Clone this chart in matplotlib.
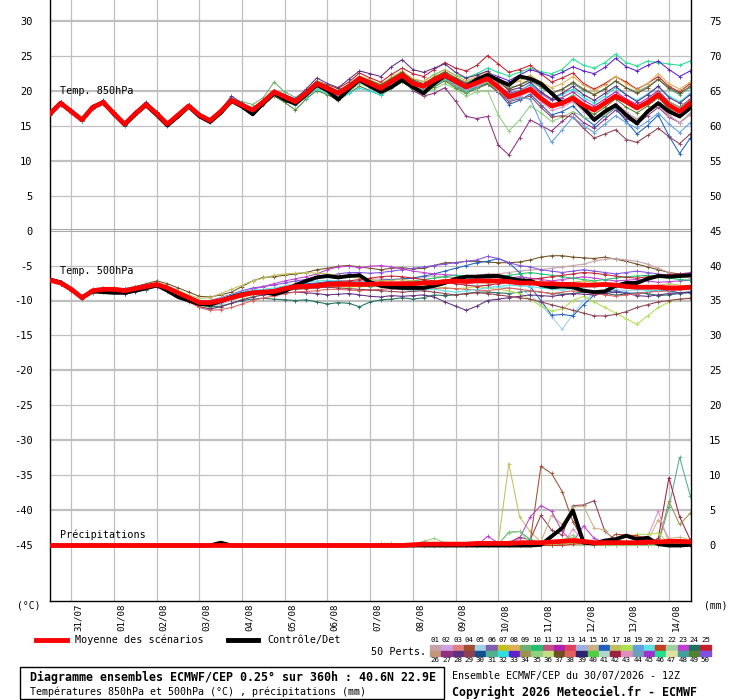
import numpy as np
import matplotlib
matplotlib.use("Agg")
import matplotlib.pyplot as plt
from matplotlib.lines import Line2D
from matplotlib.patches import Rectangle
from matplotlib.transforms import blended_transform_factory

plt.rcParams["font.family"] = ["DejaVu Sans Mono", "DejaVu Sans"]
plt.rcParams["axes.unicode_minus"] = False

W, H = 740, 700

# forecast steps (hours after 30/07 12Z), every 6h up to 360h
hours = np.arange(0, 361, 6)
day_hours = [12, 36, 60, 84, 108, 132, 156, 180, 204, 228, 252, 276, 300, 324, 348]
day_labels = ["31/07", "01/08", "02/08", "03/08", "04/08", "05/08", "06/08", "07/08",
              "08/08", "09/08", "10/08", "11/08", "12/08", "13/08", "14/08"]

member_colors = [
    "#c8a0a8", "#d0a0e0", "#e08080", "#a05030", "#a0d0e8", "#8060b0", "#c0c020", "#e0b050",
    "#70b070", "#20c070", "#c05080", "#b020b0", "#e04060", "#a0b0e0", "#c8b080", "#2060c0",
    "#c0c060", "#b0e050", "#60a0e0", "#60e0e8", "#c04020", "#a0d0a0", "#c040d0", "#207060",
    "#c02030",
    "#c09878", "#903080", "#603080", "#904050", "#105090", "#50b090", "#30e0e0", "#6020d0",
    "#a09050", "#90d080", "#c0e080", "#705020", "#e06060", "#302070", "#50d040", "#b0d8c8",
    "#a02040", "#e090c0", "#70a0b8", "#a030d0", "#20e090", "#e0e0a0", "#40a0a0", "#508030",
    "#8050e0",
]

# ---- temperature 850 hPa (degC)
t850_mean = ("16.7 18.2 17.0 15.8 17.6 18.3 16.7 15.2 16.7 18.0 16.7 15.2 16.5 17.8 16.5 15.7 17.0 18.6 17.9 17.2 "
             "18.4 19.8 19.1 18.4 19.6 21.0 20.3 19.6 20.5 21.7 21.0 20.3 21.3 22.2 21.0 20.6 21.5 22.2 21.3 20.5 "
             "21.1 21.7 20.5 19.1 19.6 20.2 18.9 17.8 18.2 18.9 17.9 17.2 18.2 19.2 18.4 17.5 18.3 19.4 17.9 17.0 18.2")
t850_ctrl = ("16.6 18.2 17.0 15.8 17.6 18.3 16.6 15.1 16.6 17.9 16.5 15.0 16.3 17.7 16.3 15.5 16.8 18.5 17.7 16.6 "
             "18.2 19.6 18.7 18.1 19.4 20.8 20.0 18.7 20.2 21.5 20.6 19.8 20.5 21.5 20.5 19.6 21.0 22.1 21.3 20.5 "
             "21.6 22.2 21.5 20.8 22.0 21.7 21.0 19.6 18.2 18.9 17.5 15.8 17.0 17.9 16.5 15.3 17.0 18.2 17.0 16.3 17.5")
t850_members = {
    27: "16.8 18.4 17.1 15.9 17.7 18.5 16.8 15.3 16.9 18.2 16.8 15.4 16.6 18.0 16.6 15.8 17.1 18.9 18.0 17.3 18.5 19.9 19.2 18.6 19.8 "
        "21.3 20.6 19.8 20.9 22.0 21.2 20.4 21.0 21.6 20.0 19.2 19.6 20.4 18.5 16.3 16.0 16.3 12.2 10.8 13.2 15.8 15.0 14.2 15.6 16.8 "
        "15.4 14.6 15.9 17.2 16.0 15.2 16.4 17.6 16.2 15.4 16.6",
    46: "16.8 18.3 17.1 15.9 17.7 18.4 16.8 15.3 16.8 18.1 16.8 15.3 16.6 17.9 16.6 15.8 17.1 18.7 18.0 17.3 18.5 19.9 19.2 18.5 19.7 "
        "21.2 20.5 19.9 20.8 22.0 21.4 20.8 21.8 22.7 21.6 21.3 22.3 23.0 22.2 21.8 22.4 23.2 22.6 22.1 22.6 23.2 22.7 22.4 23.0 24.5 "
        "23.6 23.2 24.0 25.2 24.0 23.5 24.2 24.0 23.8 23.6 24.2",
    16: "16.5 18.0 16.8 15.6 17.4 18.1 16.5 15.0 16.5 17.8 16.5 15.0 16.3 17.6 16.4 15.5 16.9 18.5 17.6 16.9 18.2 19.5 18.7 18.0 19.2 "
        "20.6 19.9 19.2 20.0 21.2 20.6 19.8 20.9 21.8 20.8 20.4 21.0 21.8 21.0 20.0 20.5 21.0 19.8 18.0 18.6 19.5 18.0 16.5 17.0 17.8 "
        "16.2 15.0 16.4 17.5 15.6 13.8 15.0 16.5 13.5 11.0 13.2",
    25: "16.9 18.3 17.2 16.0 17.8 18.5 16.9 15.4 16.9 18.2 16.9 15.4 16.7 18.0 16.7 15.9 17.2 18.8 18.1 17.5 18.6 20.0 19.4 18.7 19.9 "
        "21.4 20.8 20.3 21.2 22.5 21.8 21.2 22.3 23.2 22.4 22.0 23.0 24.0 23.2 22.8 23.6 25.0 23.8 22.6 23.0 23.6 22.4 21.2 21.8 22.5 "
        "21.0 20.2 21.0 22.0 21.2 20.2 21.0 22.0 20.6 19.8 21.0",
    35: "16.6 18.1 16.9 15.7 17.5 18.2 16.6 15.1 16.6 17.9 16.6 15.1 16.4 17.6 16.4 15.6 16.9 18.4 17.8 17.1 18.3 19.6 18.9 18.2 19.3 "
        "20.4 19.6 18.6 19.8 21.0 20.4 19.5 20.3 21.2 20.2 19.5 20.2 21.0 20.2 19.2 19.8 20.0 16.5 14.2 15.8 17.8 16.8 15.6 16.2 17.0 "
        "16.2 15.8 16.5 17.6 16.8 16.0 16.9 18.0 16.5 15.4 16.8",
    31: "16.7 18.2 17.0 15.9 17.6 18.3 16.7 15.3 16.8 18.0 16.7 15.3 16.5 17.8 16.5 15.8 17.0 18.6 17.9 17.3 18.5 19.8 19.1 18.5 19.7 "
        "21.1 20.4 19.8 20.7 21.8 21.2 20.6 21.5 22.4 21.3 20.9 21.8 22.6 21.8 21.2 21.8 22.4 21.5 20.4 20.8 21.4 20.4 19.6 20.2 21.0 "
        "20.0 19.4 20.3 21.3 20.4 19.8 20.6 21.6 20.2 19.4 20.4",
    33: "16.8 18.3 17.1 15.8 17.7 18.4 16.8 15.2 16.8 18.1 16.8 15.2 16.6 17.9 16.6 15.7 17.1 18.7 18.0 17.3 18.5 19.9 19.2 18.5 19.7 "
        "21.0 20.4 19.7 20.6 21.8 21.0 20.4 21.4 22.4 21.2 20.6 21.5 22.3 21.6 21.0 21.6 22.5 22.0 21.4 22.2 23.0 22.5 22.0 22.6 23.4 "
        "22.8 22.4 23.3 24.6 23.4 22.8 23.6 24.2 23.0 22.0 22.8",
    29: "16.6 18.1 16.9 15.7 17.5 18.2 16.6 15.1 16.6 17.9 16.6 15.1 16.4 17.7 16.4 15.6 16.9 18.5 17.8 17.1 18.3 19.7 19.0 18.3 19.5 "
        "20.8 20.1 19.4 20.3 21.4 20.7 20.0 21.0 21.9 20.6 20.1 20.9 21.6 20.7 19.8 20.3 20.9 19.8 18.4 18.8 19.2 17.6 16.2 16.4 16.2 "
        "14.6 13.2 13.8 14.4 13.0 12.6 13.6 14.6 13.4 12.4 13.8",
    8: "16.7 18.3 17.1 15.9 17.7 18.4 16.8 15.3 16.8 18.1 16.8 15.3 16.6 17.9 16.6 15.8 17.1 18.7 18.0 17.3 18.6 20.0 19.3 18.6 19.8 "
       "21.3 20.7 20.0 20.9 22.1 21.5 20.9 21.9 22.8 21.7 21.3 22.2 23.0 22.1 21.4 22.0 22.7 21.6 20.8 21.4 22.2 21.2 20.4 21.0 22.0 "
       "20.8 20.0 20.8 22.0 21.0 20.1 21.0 22.4 21.0 20.2 21.2",
    19: "16.5 18.0 16.9 15.7 17.5 18.2 16.6 15.1 16.6 17.9 16.6 15.1 16.4 17.7 16.4 15.6 16.9 18.5 17.7 17.0 18.2 19.6 18.9 18.2 19.4 "
        "20.7 20.0 19.3 20.2 21.3 20.6 19.9 20.8 21.6 20.5 20.0 20.8 21.6 20.8 20.0 20.6 21.2 20.0 18.6 19.0 18.8 15.4 12.6 14.4 16.2 "
        "15.0 14.0 15.2 16.4 15.4 14.6 15.6 16.8 15.2 14.0 15.4",
    12: "16.8 18.3 17.0 15.8 17.6 18.4 16.7 15.2 16.7 18.1 16.7 15.2 16.5 17.9 16.5 15.7 17.0 18.6 17.9 17.2 18.4 19.8 19.1 18.4 19.6 "
        "21.0 20.3 19.6 20.6 21.8 21.1 20.5 21.5 22.5 21.3 20.8 21.6 22.4 21.4 20.6 21.2 21.8 20.8 19.6 20.0 20.8 19.6 18.6 19.0 19.8 "
        "18.6 17.8 18.8 19.8 18.8 18.0 18.9 20.0 18.4 17.6 18.8",
    49: "16.6 18.1 16.9 15.7 17.5 18.2 16.6 15.1 16.6 17.9 16.6 15.1 16.4 17.6 16.4 15.6 16.9 18.4 17.6 16.8 17.9 19.2 18.3 17.2 18.8 "
        "20.0 19.4 18.6 19.6 20.6 20.0 19.3 20.4 21.3 20.2 19.6 20.5 21.4 20.4 19.6 20.3 21.0 19.8 18.8 19.2 20.0 18.8 17.6 18.0 18.8 "
        "17.4 16.6 17.6 18.8 17.6 16.8 17.8 19.0 17.4 16.4 17.6",
    9: "16.7 18.2 17.0 15.8 17.7 18.4 16.8 15.3 16.9 18.2 16.9 15.4 16.7 18.0 16.7 16.0 17.3 18.9 18.4 18.0 19.0 21.2 19.8 19.0 20.0 "
       "21.4 20.6 19.9 20.8 21.9 21.0 20.2 21.0 21.9 20.6 20.0 20.9 21.6 20.6 19.8 20.4 21.2 20.0 18.8 19.4 20.4 19.0 17.8 18.4 19.4 "
       "18.0 17.2 18.2 19.4 18.4 17.6 18.6 19.8 18.4 17.6 18.6",
    32: "16.6 18.1 16.9 15.7 17.5 18.2 16.6 15.1 16.6 17.9 16.6 15.1 16.4 17.7 16.4 15.6 16.9 18.5 17.7 17.0 18.2 19.5 18.8 18.0 19.0 "
        "20.2 19.6 19.0 19.6 20.3 19.9 19.4 20.5 21.5 20.4 20.0 21.0 21.8 20.9 20.1 20.8 21.5 20.4 19.4 20.0 20.9 19.8 18.8 19.4 20.2 "
        "19.0 18.2 19.2 20.4 19.4 18.6 19.5 20.6 19.2 18.4 19.6",
    28: "16.8 18.4 17.2 16.0 17.8 18.6 16.9 15.4 17.0 18.4 17.0 15.4 16.7 18.0 16.7 15.9 17.2 19.2 18.2 17.4 18.6 20.0 19.4 18.8 20.2 "
        "21.8 21.0 20.4 21.6 22.8 22.4 22.0 23.4 24.4 23.0 22.6 23.2 23.8 22.6 21.8 22.2 22.8 21.4 20.0 20.4 21.2 19.8 18.8 19.6 20.6 "
        "19.4 18.6 19.6 20.6 19.4 18.4 19.4 20.6 19.0 18.2 19.4",
    43: "16.7 18.2 17.0 15.8 17.6 18.3 16.7 15.2 16.7 18.0 16.7 15.2 16.5 17.8 16.5 15.7 17.0 18.6 17.9 17.2 18.4 19.8 19.1 18.4 19.5 "
        "20.8 20.1 19.4 20.4 21.5 20.8 20.1 21.1 22.0 20.9 20.4 21.2 22.0 21.0 20.2 20.8 21.4 20.0 18.8 19.2 19.8 18.4 17.2 17.6 18.4 "
        "17.0 16.2 17.0 18.2 17.0 15.8 16.8 18.0 16.4 15.4 16.6",
    37: "16.7 18.2 17.1 15.9 17.7 18.3 16.8 15.3 16.8 18.1 16.7 15.2 16.6 17.9 16.5 15.6 17.0 18.7 18.0 17.2 18.4 19.8 19.2 18.6 19.8 "
        "21.2 20.6 19.9 20.9 22.0 21.4 20.8 21.7 22.6 21.5 21.0 21.9 22.7 21.8 21.0 21.6 22.3 21.2 20.2 20.8 21.6 20.6 19.6 20.2 21.2 "
        "20.2 19.4 20.2 21.4 20.4 19.6 20.4 21.6 20.4 19.6 20.6",
}

# ---- temperature 500 hPa (degC)
t500_mean = ("-7.1 -7.5 -8.4 -9.6 -8.6 -8.4 -8.4 -8.6 -8.3 -8.0 -7.7 -8.2 -8.9 -9.6 -10.3 -10.3 -10.0 -9.6 -9.2 -8.9 "
             "-8.8 -8.7 -8.3 -8.0 -8.0 -7.9 -7.7 -7.7 -7.7 -7.7 -7.7 -7.6 -7.6 -7.6 -7.6 -7.5 -7.5 -7.3 -7.2 -7.3 "
             "-7.2 -7.2 -7.2 -7.3 -7.5 -7.5 -7.6 -7.6 -7.7 -7.7 -7.8 -7.8 -7.7 -7.8 -8.0 -8.1 -8.1 -8.1 -8.2 -8.2 -8.1")
t500_ctrl = ("-7.0 -7.4 -8.4 -9.6 -8.7 -8.8 -8.9 -8.9 -8.6 -8.2 -7.8 -8.6 -9.5 -10.0 -10.5 -10.6 -10.1 -9.5 -9.1 -8.9 "
             "-8.8 -9.1 -8.7 -7.8 -7.2 -6.7 -6.5 -6.7 -6.5 -6.4 -7.4 -7.9 -8.1 -8.2 -8.2 -8.2 -7.9 -7.5 -6.9 -6.6 "
             "-6.6 -6.5 -6.5 -6.8 -7.1 -7.2 -7.8 -8.1 -8.0 -8.1 -8.6 -8.8 -8.7 -7.9 -7.5 -7.5 -6.9 -6.5 -6.6 -6.5 -6.4")
t500_members = {
    37: "-7.0 -7.4 -8.3 -9.4 -8.4 -8.2 -8.2 -8.3 -8.0 -7.6 -7.2 -7.6 -8.2 -8.8 -9.4 -9.5 -9.2 -8.8 -8.0 -7.2 -6.7 -6.6 -6.4 -6.2 -6.0 "
        "-5.6 -5.4 -5.1 -5.0 -5.2 -5.4 -5.6 -5.4 -5.3 -5.5 -5.4 -5.0 -4.6 -4.6 -4.4 -4.4 -4.5 -4.6 -4.6 -4.5 -4.2 -3.8 -3.6 -3.6 -3.8 "
        "-3.9 -4.0 -3.8 -4.1 -4.4 -4.8 -5.2 -5.6 -6.0 -6.2 -6.3",
    1: "-7.2 -7.6 -8.5 -9.7 -8.7 -8.5 -8.5 -8.7 -8.4 -8.1 -7.8 -8.3 -9.1 -9.9 -10.6 -10.8 -10.5 -10.0 -9.5 -9.1 -8.9 -8.6 -8.2 -7.9 -7.8 "
       "-7.6 -7.4 -7.3 -7.2 -7.2 -7.0 -6.9 -7.0 -7.0 -6.8 -6.6 -6.5 -6.6 -6.8 -6.6 -6.4 -6.2 -6.2 -6.0 -5.8 -5.6 -5.6 -5.4 -5.2 -5.0 "
       "-4.8 -4.4 -4.1 -4.0 -4.2 -4.4 -4.8 -5.4 -6.0 -6.6 -6.8",
    24: "-7.3 -7.7 -8.6 -9.8 -8.9 -8.8 -8.8 -9.0 -8.8 -8.5 -8.0 -8.4 -9.0 -9.8 -10.6 -10.9 -10.8 -10.4 -10.0 -9.8 -9.7 -9.8 -9.9 -10.0 -9.9 "
        "-10.2 -10.5 -10.3 -10.4 -10.9 -10.2 -9.9 -9.8 -9.6 -9.8 -9.6 -9.2 -9.3 -9.2 -9.0 -8.8 -8.8 -8.9 -9.0 -8.8 -8.6 -8.8 -9.0 -9.1 -9.0 "
        "-8.8 -8.9 -9.0 -9.2 -9.1 -8.9 -9.0 -9.3 -9.2 -9.0 -8.9",
    5: "-7.1 -7.5 -8.4 -9.6 -8.6 -8.5 -8.5 -8.6 -8.3 -8.0 -7.8 -8.3 -9.0 -9.8 -10.5 -10.6 -10.3 -9.9 -9.4 -9.0 -8.8 -8.7 -8.3 -8.0 -7.9 "
       "-7.8 -7.6 -7.5 -7.6 -7.8 -7.8 -7.7 -7.6 -7.5 -7.6 -7.4 -7.3 -7.4 -7.6 -7.8 -7.8 -7.9 -8.0 -8.2 -8.4 -9.2 -10.6 -12.3 -14.1 -12.0 "
       "-10.0 -9.0 -8.6 -8.4 -8.6 -8.5 -8.4 -8.6 -8.8 -8.9 -8.7",
    16: "-7.0 -7.4 -8.3 -9.5 -8.5 -8.3 -8.3 -8.5 -8.2 -7.9 -7.6 -8.1 -8.8 -9.5 -10.2 -10.2 -9.9 -9.5 -9.1 -8.8 -8.6 -8.4 -8.0 -7.7 -7.6 "
        "-7.5 -7.3 -7.2 -7.3 -7.4 -7.3 -7.1 -7.0 -6.9 -6.8 -6.5 -6.2 -5.8 -5.4 -5.0 -4.6 -4.4 -4.0 -4.6 -6.0 -8.0 -10.0 -12.1 -12.0 -12.2 "
        "-10.6 -9.2 -8.8 -8.6 -8.9 -9.0 -8.8 -8.5 -8.6 -8.9 -8.8",
    18: "-7.1 -7.6 -8.5 -9.7 -8.7 -8.6 -8.6 -8.8 -8.5 -8.2 -7.9 -8.4 -9.2 -10.0 -10.8 -11.2 -10.9 -10.4 -9.8 -9.4 -9.1 -8.9 -8.6 -8.4 -8.3 "
        "-8.2 -8.0 -8.0 -8.1 -8.0 -7.9 -8.0 -8.2 -8.1 -8.0 -7.9 -8.0 -8.2 -8.3 -8.2 -8.0 -8.2 -8.4 -8.6 -9.0 -9.8 -10.8 -11.5 -11.2 -10.0 "
        "-9.4 -10.2 -11.0 -11.8 -12.6 -13.4 -12.2 -11.0 -10.2 -9.8 -9.6",
    28: "-7.2 -7.6 -8.5 -9.7 -8.8 -8.7 -8.8 -9.0 -8.7 -8.4 -8.1 -8.6 -9.3 -10.1 -10.9 -11.2 -10.9 -10.4 -9.9 -9.5 -9.2 -9.1 -8.9 -8.8 -8.9 "
        "-9.0 -9.2 -9.1 -9.0 -9.2 -9.4 -9.5 -9.3 -9.4 -9.3 -9.2 -9.5 -10.2 -10.8 -11.4 -10.8 -10.0 -9.8 -9.6 -9.4 -9.2 -9.3 -9.4 -9.2 -9.0 "
        "-9.1 -9.2 -9.0 -8.8 -9.0 -9.3 -9.4 -9.2 -9.0 -8.9 -8.8",
    50: "-7.1 -7.5 -8.4 -9.6 -8.5 -8.3 -8.2 -8.4 -8.1 -7.8 -7.5 -8.0 -8.7 -9.4 -10.0 -10.0 -9.6 -9.1 -8.6 -8.2 -8.0 -7.8 -7.5 -7.2 -7.0 "
        "-6.8 -6.5 -6.2 -6.0 -6.0 -6.1 -6.0 -5.8 -5.6 -5.4 -5.2 -5.0 -4.8 -4.6 -4.4 -4.2 -3.7 -4.0 -4.6 -5.0 -5.2 -5.6 -5.8 -6.0 -5.8 "
        "-5.6 -5.8 -6.0 -6.2 -6.0 -5.8 -6.0 -6.2 -6.4 -6.2 -6.0",
    23: "-7.0 -7.4 -8.3 -9.5 -8.5 -8.3 -8.3 -8.4 -8.1 -7.8 -7.5 -8.0 -8.7 -9.4 -10.1 -10.1 -9.8 -9.3 -8.8 -8.4 -8.0 -7.6 -7.2 -6.9 -6.6 "
        "-6.2 -5.6 -5.2 -5.1 -5.3 -5.1 -5.0 -5.2 -5.5 -5.8 -6.0 -6.2 -6.3 -6.4 -6.6 -6.8 -6.9 -7.0 -6.8 -6.6 -6.8 -7.0 -7.2 -7.0 -6.8 "
        "-6.6 -6.8 -7.0 -7.2 -7.1 -7.0 -7.2 -7.4 -7.3 -7.2 -7.1",
    10: "-7.2 -7.6 -8.4 -9.5 -8.6 -8.5 -8.5 -8.7 -8.4 -8.1 -7.8 -8.2 -8.9 -9.6 -10.2 -10.3 -10.0 -9.6 -9.3 -9.0 -8.9 -8.8 -8.5 -8.3 -8.2 "
        "-8.0 -7.9 -7.8 -7.8 -7.9 -8.0 -7.8 -7.6 -7.4 -7.2 -7.0 -6.8 -6.6 -6.4 -6.5 -6.6 -6.8 -6.6 -6.4 -6.2 -6.0 -6.2 -6.4 -6.6 -6.8 "
        "-7.0 -7.2 -7.0 -6.8 -6.6 -6.5 -6.4 -6.6 -6.8 -7.0 -7.1",
    38: "-7.2 -7.6 -8.5 -9.7 -8.8 -8.6 -8.6 -8.8 -8.5 -8.2 -7.9 -8.5 -9.3 -10.2 -11.0 -11.4 -11.3 -11.0 -10.5 -10.0 -9.6 -9.4 -9.0 -8.8 -8.7 "
        "-8.6 -8.4 -8.4 -8.5 -8.6 -8.5 -8.4 -8.3 -8.4 -8.5 -8.4 -8.3 -8.2 -8.3 -8.4 -8.5 -8.6 -8.4 -8.2 -8.4 -8.6 -8.8 -9.0 -8.8 -8.6 "
        "-8.8 -9.0 -9.2 -9.4 -9.2 -9.0 -8.8 -8.7 -8.6 -8.5 -8.4",
    17: "-7.0 -7.4 -8.3 -9.5 -8.5 -8.4 -8.4 -8.5 -8.2 -7.9 -7.6 -8.0 -8.6 -9.2 -9.7 -9.6 -9.0 -8.4 -7.8 -7.2 -6.8 -6.4 -6.2 -6.1 -6.0 "
        "-6.1 -6.2 -6.4 -6.6 -6.8 -7.0 -7.2 -7.1 -7.0 -7.2 -7.4 -7.2 -7.0 -7.1 -7.3 -7.4 -7.5 -7.4 -7.2 -7.0 -7.1 -7.3 -7.5 -7.6 -7.4 "
        "-7.2 -7.4 -7.6 -7.8 -8.0 -8.2 -8.0 -7.8 -7.6 -7.8 -8.0",
    20: "-7.1 -7.5 -8.4 -9.6 -8.6 -8.4 -8.3 -8.5 -8.2 -7.9 -7.6 -8.1 -8.8 -9.5 -10.1 -10.1 -9.7 -9.2 -8.8 -8.5 -8.4 -8.2 -7.9 -7.6 -7.4 "
        "-7.2 -7.1 -7.2 -7.4 -7.6 -7.8 -8.0 -8.2 -8.4 -8.6 -8.5 -8.4 -8.6 -8.8 -8.6 -8.4 -8.2 -8.0 -7.8 -7.9 -8.0 -8.2 -8.4 -8.5 -8.3 "
        "-8.1 -8.0 -7.9 -8.0 -8.2 -8.4 -8.6 -8.5 -8.4 -8.3 -8.2",
    25: "-7.1 -7.5 -8.4 -9.6 -8.6 -8.4 -8.4 -8.6 -8.3 -8.0 -7.7 -8.2 -8.9 -9.6 -10.3 -10.4 -10.1 -9.7 -9.3 -8.9 -8.7 -8.5 -8.2 -7.9 -7.8 "
        "-7.6 -7.4 -7.3 -7.2 -7.0 -6.8 -6.6 -6.5 -6.6 -6.8 -7.0 -7.2 -7.4 -7.6 -7.8 -8.0 -7.8 -7.6 -7.4 -7.2 -7.0 -6.8 -6.6 -6.4 -6.2 "
        "-6.0 -6.1 -6.3 -6.5 -6.7 -6.8 -6.6 -6.4 -6.3 -6.2 -6.2",
    29: "-7.2 -7.6 -8.5 -9.6 -8.7 -8.6 -8.6 -8.7 -8.4 -8.1 -7.8 -8.3 -9.0 -9.7 -10.4 -10.5 -10.2 -9.8 -9.4 -9.1 -9.0 -8.9 -8.6 -8.4 -8.3 "
        "-8.2 -8.1 -8.2 -8.3 -8.4 -8.5 -8.6 -8.7 -8.8 -8.7 -8.6 -8.8 -9.0 -9.2 -9.0 -8.9 -9.0 -9.2 -9.4 -9.6 -9.8 -10.2 -10.6 -11.0 -11.4 "
        "-11.8 -12.2 -12.2 -12.0 -11.6 -11.0 -10.6 -10.2 -10.0 -9.8 -9.7",
}

# ---- precipitation (mm per 6h)
prec_mean = ("0 0 0 0 0 0 0 0 0 0 0 0 0 0 0 0 0 0 0 0 0 0 0 0 0 0 0 0 0 0 "
             "0 0 0 0 0.1 0.2 0.2 0.2 0.2 0.2 0.3 0.3 0.3 0.3 0.4 0.4 0.4 0.5 0.6 0.7 "
             "0.6 0.4 0.4 0.4 0.4 0.4 0.5 0.5 0.6 0.6 0.5")
prec_ctrl = ("0 0 0 0 0 0 0 0 0 0 0 0 0 0 0 0 0.4 0 0 0 0 0 0 0 0 0 0 0 0 0 "
             "0 0 0 0 0 0 0 0 0 0 0 0 0 0 0 0 0.1 1.3 2.5 5.0 "
             "0.4 0.3 0.7 0.9 1.4 0.9 1.1 0.2 0 0 0.1")
# members only given from 180h on (flat zero before)
prec_member_hours = hours[30:]
prec_members = {
    17: "0 0 0 0 0 0 0 0 0 0 0 0 0.3 11.7 4.1 2.0 0.5 0.3 0.6 1.2 0.4 0.3 0.2 0.3 0.2 0.1 0.1 0.2 0.1 0 0",
    4: "0 0 0 0 0 0 0 0 0 0 0 0 0 0 0.3 0.6 11.3 10.3 7.7 3.4 0.7 0.4 0.3 0.2 0.1 0.1 0.1 0 0 0 0",
    29: "0 0 0 0 0 0 0 0 0 0 0 0 0 0.4 1.2 0.8 4.3 2.2 1.5 5.7 5.8 6.4 2.0 0.8 0.5 0.3 0.2 0.1 0 0 0",
    15: "0 0 0 0 0 0 0 0 0 0 0 0 0 0 0 0 0.5 4.3 3.0 5.5 5.6 2.5 2.2 0.5 0.3 0.2 0.6 3.7 1.0 1.2 0.8",
    23: "0 0 0 0 0 0 0 0 0 0 0 1.3 0.4 0.5 1.0 4.1 5.7 4.9 2.0 0.5 2.8 1.0 0.4 0.3 0.2 0.1 0.1 0 0 0 0",
    31: "0 0 0 0 0 0 0 0 0 0 0 0 0.2 1.9 2.0 0.9 0.4 0.2 0.3 0.6 0.2 0.1 0.1 0 0 0 0 0.3 5.5 12.6 7.1",
    42: "0 0 0 0 0 0 0 0 0 0 0 0 0 0 0.2 0.3 0.2 0.4 0.6 0.3 0.2 0.1 0.2 0.3 0.2 0.1 0.2 1.0 9.7 4.1 0.8",
    34: "0 0 0 0 0 0 0 0 0 0 0 0 0 0 0 0 0 0 0.2 0.3 0.2 0.1 0 0 0 0 0 0.4 6.3 3.0 4.6",
    43: "0 0 0 0 0 0 0 0 0 0 0 0 0 0 0 0 0 0 0 2.3 0.8 0.5 0.3 0.2 0.3 0.6 1.2 4.9 0.3 0.1 0",
    35: "0 0.3 0.3 0 0 0.6 1.0 0.4 0 0 0 0 0.2 1.8 2.0 0.4 0.2 0.3 0.8 1.5 0.4 0.2 0.1 0 0 0 0 0 0 0 0",
    18: "0 0 0 0 0 0 0 0 0 0 0 0 0 0 0 0 0 0.2 0.4 0.3 0.2 0.3 0.5 0.8 1.2 1.6 1.6 1.8 0.3 0.2 0.1",
    21: "0 0 0 0 0 0 0 0 0 0 0 0 0 0 0 0 0 0 0 0.2 0.3 0.2 0.4 1.6 1.5 1.4 1.0 0.3 0.2 0.1 0.2",
}


def vals(s, n, name):
    v = np.array(s.split(), dtype=float)
    if len(v) != n:
        raise ValueError(f"{name}: {len(v)} values, expected {n}")
    return v


fig = plt.figure(figsize=(W / 100, H / 100), dpi=100)
ax = fig.add_axes([50 / W, 1 - 601 / H, 641 / W, 601 / H])
y_lo, y_hi = -52.93, 32.93
ax.set_xlim(0, 360.4)
ax.set_ylim(y_lo, y_hi)

# precipitation and right-hand scale share the frame, shifted by 45
ax2 = ax.twinx()
ax2.set_ylim(y_lo + 45, y_hi + 45)
ax2.set_xlim(0, 360.4)

# grid
for h in day_hours:
    ax.axvline(h, color="#c0c0c0", lw=0.9, zorder=0)
for v in range(-45, 31, 5):
    if v == 0:
        continue
    ax.axhline(v, color="#c0c0c0", lw=1.6 if v % 10 == 0 else 0.9, zorder=0)
ax.axhline(0.17, color="#a8a8a8", lw=0.8, zorder=0)
ax.axhline(-0.12, color="#a8a8a8", lw=0.8, zorder=0)

mk = dict(lw=0.75, marker="+", ms=2.6, mew=0.6)

for m, s in t850_members.items():
    ax.plot(hours, vals(s, 61, f"t850 {m}"), color=member_colors[m - 1], zorder=2, **mk)
for m, s in t500_members.items():
    ax.plot(hours, vals(s, 61, f"t500 {m}"), color=member_colors[m - 1], zorder=2, **mk)
ax.plot(hours, vals(t850_ctrl, 61, "t850 ctrl"), color="black", lw=2.8, zorder=3)
ax.plot(hours, vals(t500_ctrl, 61, "t500 ctrl"), color="black", lw=2.8, zorder=3)
ax.plot(hours, vals(t850_mean, 61, "t850 mean"), color="red", lw=3.4, zorder=4)
ax.plot(hours, vals(t500_mean, 61, "t500 mean"), color="red", lw=3.4, zorder=4)

for m, s in prec_members.items():
    ax2.plot(prec_member_hours, vals(s, 31, f"prec {m}"), color=member_colors[m - 1], zorder=2, **mk)
ax2.plot(hours, vals(prec_ctrl, 61, "prec ctrl"), color="black", lw=2.8, zorder=3)
ax2.plot(hours, vals(prec_mean, 61, "prec mean"), color="red", lw=3.4, zorder=4)

# panel names
ax.text(5.6, 19.9, "Temp. 850hPa", fontsize=7.3, va="center")
ax.text(5.6, -5.8, "Temp. 500hPa", fontsize=7.3, va="center")
ax.text(5.6, -43.4, "Précipitations", fontsize=7.3, va="center")

# axes
ax.set_yticks(range(-45, 31, 5))
ax.set_xticks([])
ax.tick_params(axis="y", length=0, pad=12.5, labelsize=7.5)
ax2.set_yticks(range(0, 76, 5))
ax2.set_xticks([])
ax2.tick_params(axis="y", length=0, pad=13, labelsize=7.5)
for a in (ax, ax2):
    for side in ("top", "right", "left", "bottom"):
        a.spines[side].set_visible(False)
ax.spines["left"].set_visible(True)
ax.spines["bottom"].set_visible(True)
ax2.spines["right"].set_visible(True)
for sp in (ax.spines["left"], ax.spines["bottom"], ax2.spines["right"]):
    sp.set_color("black")
    sp.set_linewidth(1.0)

tr = blended_transform_factory(ax.transData, ax.transAxes)
for h, lbl in zip(day_hours, day_labels):
    ax.text(h + 4, -0.004, lbl, rotation=90, ha="center", va="top", fontsize=6.6, transform=tr)


def fx(x):
    return x / W


def fy(y):
    return 1 - y / H


fig.text(fx(17), fy(606), "(°C)", va="center", fontsize=7)
fig.text(fx(704), fy(606), "(mm)", va="center", fontsize=7)

# legend
fig.add_artist(Line2D([fx(36), fx(67)], [fy(640), fy(640)], color="red", lw=3.5))
fig.text(fx(75), fy(640), "Moyenne des scénarios", va="center", fontsize=7.3)
fig.add_artist(Line2D([fx(228), fx(258)], [fy(640), fy(640)], color="black", lw=3.5))
fig.text(fx(267), fy(640), "Contrôle/Det", va="center", fontsize=7.3)
fig.text(fx(426), fy(652), "50 Perts.", ha="right", va="center", fontsize=7.3)

for k, c in enumerate(member_colors):
    col, row = k % 25, k // 25
    x0 = 430 + col * 11.26
    y0 = 644.5 + row * 6
    fig.add_artist(Rectangle((fx(x0), fy(y0 + 5.6)), 10.4 / W, 5.6 / H, color=c,
                             transform=fig.transFigure))
    ny = 639.8 if row == 0 else 660.5
    fig.text(fx(x0 + 5.2), fy(ny), f"{k + 1:02d}", ha="center", va="center", fontsize=5.4)

# title box
fig.add_artist(Rectangle((fx(20), fy(699)), 424 / W, 32 / H, fill=False, ec="black", lw=1,
                         transform=fig.transFigure))
fig.text(fx(30), fy(677), "Diagramme ensembles ECMWF/CEP 0.25° sur 360h : 40.6N 22.9E",
         va="center", fontsize=8.4, fontweight="bold")
fig.text(fx(30), fy(692), "Températures 850hPa et 500hPa (°C) , précipitations (mm)",
         va="center", fontsize=7.2)
fig.text(fx(452), fy(676), "Ensemble ECMWF/CEP du 30/07/2026 - 12Z", va="center", fontsize=7.2)
fig.text(fx(452), fy(692), "Copyright 2026 Meteociel.fr - ECMWF", va="center", fontsize=8.4,
         fontweight="bold")

fig.savefig("out.png", dpi=100)
